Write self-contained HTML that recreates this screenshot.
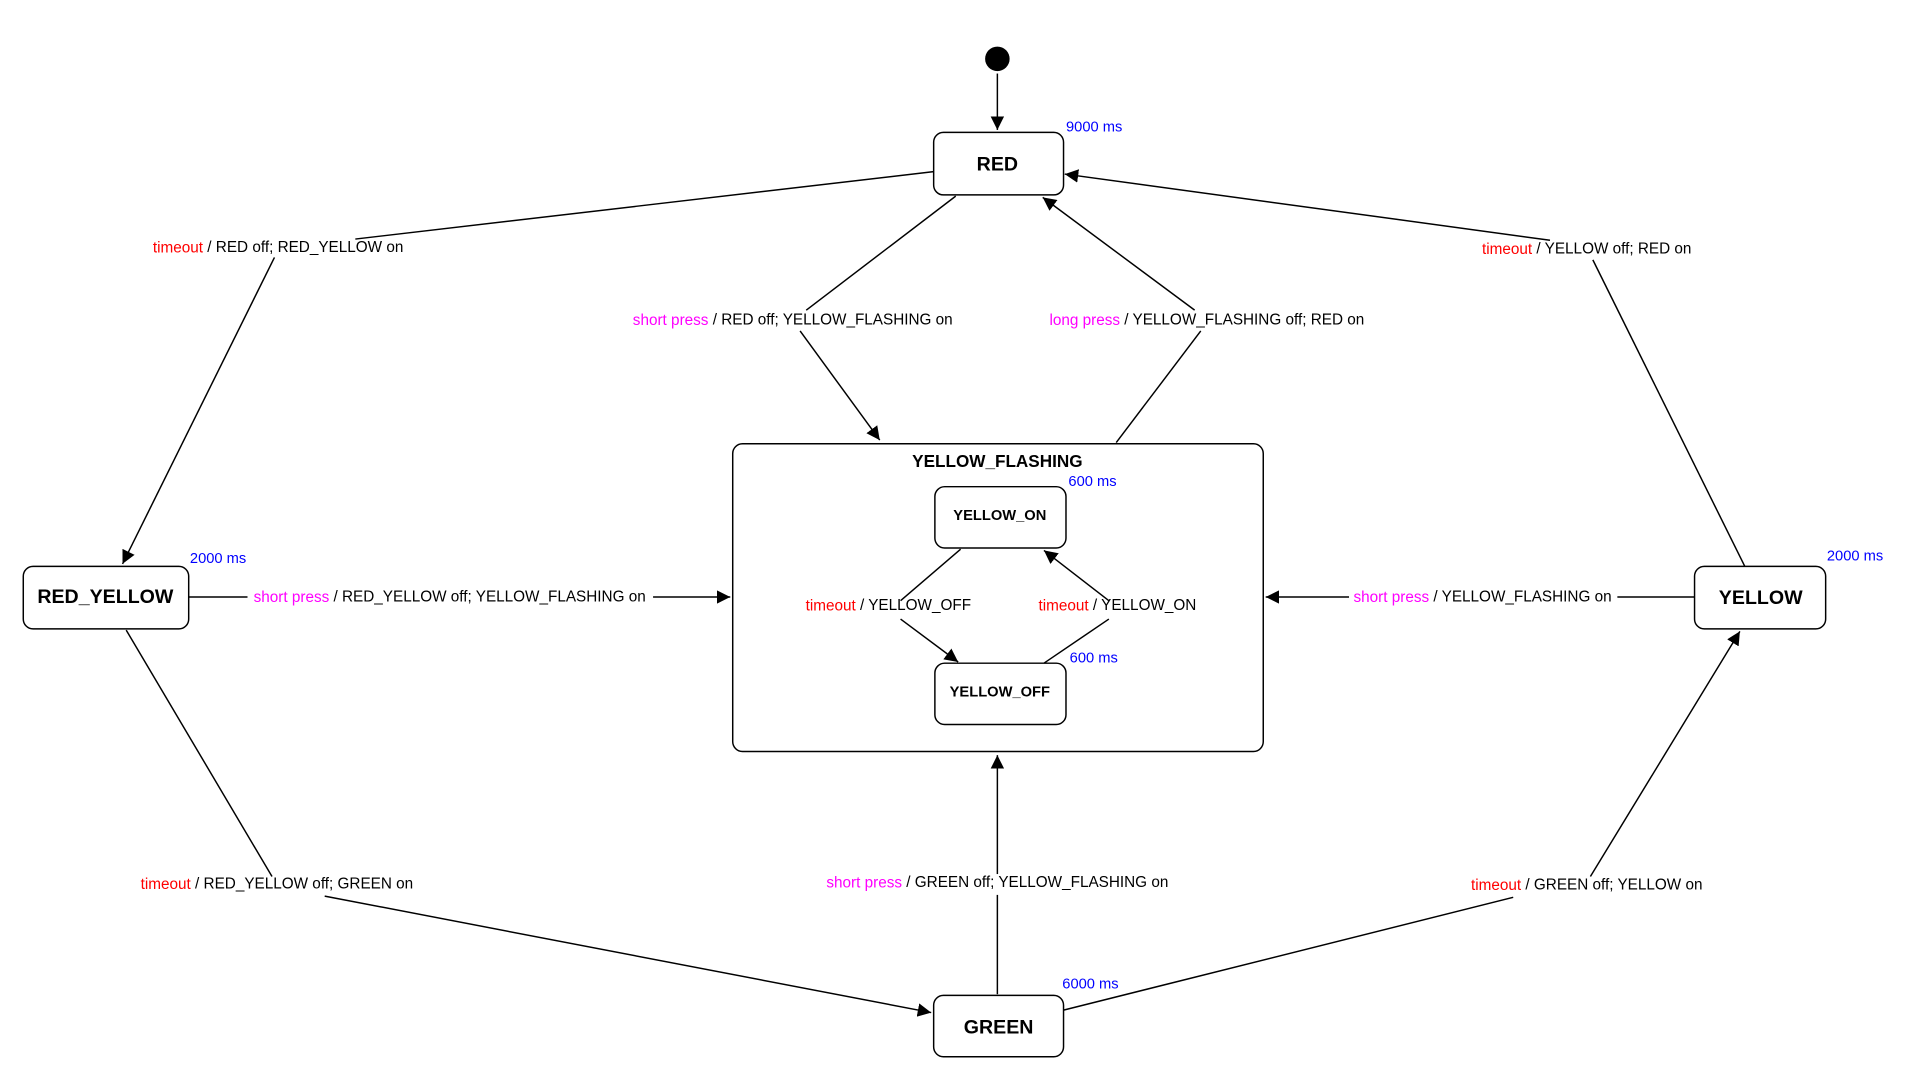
<!DOCTYPE html>
<html><head><meta charset="utf-8"><style>html,body{margin:0;padding:0;background:#fff}svg{display:block}</style></head>
<body>
<svg width="1920" height="1080" viewBox="0 0 1567 881" preserveAspectRatio="none" xmlns="http://www.w3.org/2000/svg" font-family="Liberation Sans, Arial, sans-serif">
<defs><marker id="a" viewBox="0 0 10 10" refX="10" refY="5" markerWidth="11" markerHeight="11" markerUnits="userSpaceOnUse" orient="auto"><path d="M0,0L10,5L0,10z" fill="#000"/></marker></defs>
<g stroke="#000" stroke-width="1.2" fill="none">
<line x1="814" y1="60" x2="814" y2="106" marker-end="url(#a)"/>
<polyline points="762,140 290,195"/><line x1="224" y1="210" x2="100" y2="460" marker-end="url(#a)"/>
<polyline points="780,160 658,253"/><line x1="653" y1="270" x2="718" y2="359" marker-end="url(#a)"/>
<polyline points="911,361 980,270"/><line x1="975" y1="253" x2="851" y2="161" marker-end="url(#a)"/>
<polyline points="1424,462 1300,212"/><line x1="1265" y1="196" x2="869" y2="142" marker-end="url(#a)"/>
<line x1="154" y1="487" x2="202" y2="487"/><line x1="533" y1="487" x2="596" y2="487" marker-end="url(#a)"/>
<line x1="1383" y1="487" x2="1320" y2="487"/><line x1="1101" y1="487" x2="1033" y2="487" marker-end="url(#a)"/>
<line x1="103" y1="514" x2="222" y2="715"/><line x1="265" y1="731" x2="760" y2="826" marker-end="url(#a)"/>
<line x1="814" y1="811" x2="814" y2="730"/><line x1="814" y1="713" x2="814" y2="616" marker-end="url(#a)"/>
<line x1="868" y1="824" x2="1235" y2="732"/><line x1="1298" y1="715" x2="1420" y2="515" marker-end="url(#a)"/>
<line x1="784" y1="448" x2="735" y2="490"/><line x1="735" y1="505" x2="782" y2="540" marker-end="url(#a)"/>
<line x1="852" y1="541" x2="905" y2="505"/><line x1="905" y1="490" x2="852" y2="449" marker-end="url(#a)"/>
<rect x="762" y="108" width="106" height="51" rx="8"/>
<rect x="19" y="462" width="135" height="51" rx="8"/>
<rect x="1383" y="462" width="107" height="51" rx="8"/>
<rect x="762" y="812" width="106" height="50" rx="8"/>
<rect x="598" y="362" width="433" height="251" rx="8"/>
<rect x="763" y="397" width="107" height="50" rx="8"/>
<rect x="763" y="541" width="107" height="50" rx="8"/>
</g>
<circle cx="814" cy="48" r="10" fill="#000"/>
<g font-weight="bold" text-anchor="middle" dominant-baseline="central" fill="#000">
<text x="814" y="134" font-size="16">RED</text>
<text x="86" y="487" font-size="16">RED_YELLOW</text>
<text x="1437" y="488" font-size="16">YELLOW</text>
<text x="815" y="838" font-size="16">GREEN</text>
<text x="814" y="376" font-size="14">YELLOW_FLASHING</text>
<text x="816" y="421" font-size="12">YELLOW_ON</text>
<text x="816" y="565" font-size="12">YELLOW_OFF</text>
</g>
<g font-size="12" fill="#00f" dominant-baseline="central">
<text x="870" y="104">9000 ms</text>
<text x="155" y="456">2000 ms</text>
<text x="1491" y="454">2000 ms</text>
<text x="867" y="803">6000 ms</text>
<text x="872" y="393">600 ms</text>
<text x="873" y="537">600 ms</text>
</g>
<g font-size="12.5" fill="#000" dominant-baseline="central">
<text x="227" y="202" text-anchor="middle"><tspan fill="#f00">timeout</tspan> / RED off; RED_YELLOW on</text>
<text x="647" y="261" text-anchor="middle"><tspan fill="#f0f">short press</tspan> / RED off; YELLOW_FLASHING on</text>
<text x="985" y="261" text-anchor="middle"><tspan fill="#f0f">long press</tspan> / YELLOW_FLASHING off; RED on</text>
<text x="1295" y="203" text-anchor="middle"><tspan fill="#f00">timeout</tspan> / YELLOW off; RED on</text>
<text x="367" y="487" text-anchor="middle"><tspan fill="#f0f">short press</tspan> / RED_YELLOW off; YELLOW_FLASHING on</text>
<text x="1210" y="487" text-anchor="middle"><tspan fill="#f0f">short press</tspan> / YELLOW_FLASHING on</text>
<text x="226" y="721" text-anchor="middle"><tspan fill="#f00">timeout</tspan> / RED_YELLOW off; GREEN on</text>
<text x="814" y="720" text-anchor="middle"><tspan fill="#f0f">short press</tspan> / GREEN off; YELLOW_FLASHING on</text>
<text x="1295" y="722" text-anchor="middle"><tspan fill="#f00">timeout</tspan> / GREEN off; YELLOW on</text>
<text x="725" y="494" text-anchor="middle"><tspan fill="#f00">timeout</tspan> / YELLOW_OFF</text>
<text x="912" y="494" text-anchor="middle"><tspan fill="#f00">timeout</tspan> / YELLOW_ON</text>
</g>
</svg>
</body></html>
